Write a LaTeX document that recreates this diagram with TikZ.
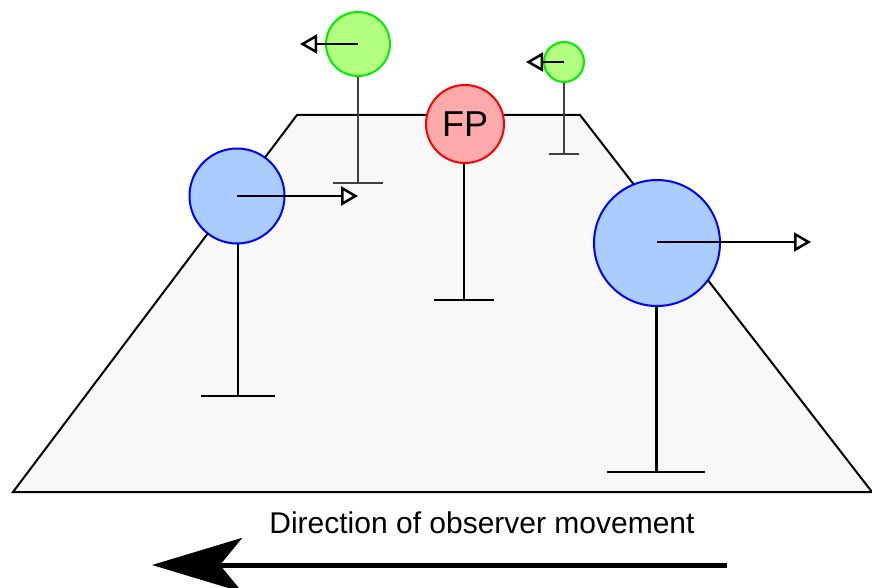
\documentclass[tikz,border=0pt]{standalone}
\usepackage{fontspec}
\setmainfont{Liberation Sans}
\usetikzlibrary{arrows.meta, positioning}
\definecolor{floorgray}{HTML}{F8F8F8}
\definecolor{nearblue}{HTML}{AACCFF}
\definecolor{fargreen}{HTML}{B3FF80}
\definecolor{fixred}{HTML}{FFAAAA}
\definecolor{lightline}{HTML}{00EE00}
\tikzset{
    ground/.style = {draw=black, line width=2pt, fill=floorgray},
    ball/.style = {circle, line width=2pt, inner sep=0pt},
    near/.style = {ball, draw=blue, fill=nearblue},
    far/.style = {ball, draw=lightline, fill=fargreen},
    fix/.style = {ball, draw=red, fill=fixred, font=\fontsize{36}{40}\selectfont},
    post/.style = {draw=black, line width=2pt},
    farpost/.style = {draw=black!75, line width=1.5pt},
    flow/.style = {line width=2pt, -{Triangle[open, length=17pt, width=19pt, line width=2.5pt]}},
    heading/.style = {line width=5pt, -{Stealth[length=90pt, width=54pt, inset=22pt]}},
    caption/.style = {font=\fontsize{30}{36}\selectfont}
}

\begin{document}
\begin{tikzpicture}[x=1pt, y=-1pt]
        \useasboundingbox (0,0) rectangle (872,588);

        % Ground plane
        \draw [ground] (297,115) -- (580,115) -- (872,492) -- (13,492) -- cycle;

        % Foot points of the posts
        \coordinate (g1foot) at (358,183);
        \coordinate (g2foot) at (564,154);
        \coordinate (fpfoot) at (464,300);
        \coordinate (b1foot) at (238,396);
        \coordinate (b2foot) at (656,472);

        % Posts (behind the balls)
        \draw [farpost] (358,76) -- (g1foot);
        \draw [farpost] ([xshift=-25pt]g1foot) -- ([xshift=25pt]g1foot);
        \draw [farpost] (564,82) -- (g2foot);
        \draw [farpost] ([xshift=-15pt]g2foot) -- ([xshift=15pt]g2foot);
        \draw [post] (464,162) -- (fpfoot);
        \draw [post] ([xshift=-30pt]fpfoot) -- ([xshift=30pt]fpfoot);
        \draw [post] (238,242) -- (b1foot);
        \draw [post] ([xshift=-37pt]b1foot) -- ([xshift=37pt]b1foot);
        \draw [post, line width=3pt] (656,307) -- (b2foot);
        \draw [post] ([xshift=-49pt]b2foot) -- ([xshift=49pt]b2foot);

        % Balls
        \node (g1) [far, minimum size=64pt] at (358,44) {};
        \node (g2) [far, minimum size=40pt] at (564,62) {};
        \node (fp) [fix, minimum size=78pt] at (465,124) {FP};
        \node (b1) [near, minimum size=95pt] at (237,196) {};
        \node (b2) [near, minimum size=126pt] at (657,243) {};

        % Apparent motion of each ball
        \coordinate (g1dir) at (300,44);
        \coordinate (g2dir) at (526,62);
        \coordinate (b1dir) at (358,196);
        \coordinate (b2dir) at (811,242);
        \draw [flow] (g1.center) -- (g1dir);
        \draw [flow] (g2.center) -- (g2dir);
        \draw [flow] (b1.center) -- (b1dir);
        \draw [flow] (b2.center |- b2dir) -- (b2dir);

        % Observer heading
        \node (label) [caption] at (482,523) {Direction of observer movement};
        \coordinate (headstart) at (727,565);
        \coordinate (headend) at (152,565);
        \draw [heading] (headstart) -- (headend);
    \end{tikzpicture}
\end{document}
